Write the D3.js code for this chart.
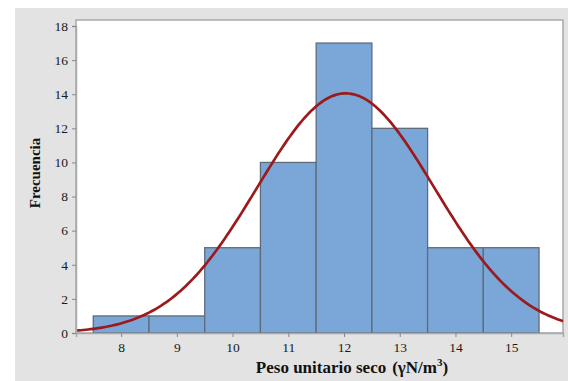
<!DOCTYPE html>
<html>
<head>
<meta charset="utf-8">
<script src="https://cdn.jsdelivr.net/npm/d3@7"></script>
<style>
  body { margin: 0; background: #fff; }
  svg { display: block; }
</style>
</head>
<body>
<script>
// histogram bins (bin width 1) and counts
const binStarts = [7.5, 8.5, 9.5, 10.5, 11.5, 12.5, 13.5, 14.5];
const counts = [1, 1, 5, 10, 17, 12, 5, 5];
const xTicks = [8, 9, 10, 11, 12, 13, 14, 15];
const yTicks = [0, 2, 4, 6, 8, 10, 12, 14, 16, 18];
// fitted normal
const fitMean = 12.03;
const fitSd = 1.59;
const binWidth = 1;

const width = 568, height = 381;
const margin = { top: 20, right: 5, bottom: 48, left: 76 };
const serif = '"Liberation Serif", "Times New Roman", serif';

const svg = d3.select('body')
    .append('svg')
    .attr('width', width)
    .attr('height', height);

svg.append('rect')
    .attr('x', 15).attr('y', 8)
    .attr('width', width - 15).attr('height', height - 8)
    .attr('fill', '#e3e3e3');

const x = d3.scaleLinear()
    .domain([7.19, 15.93])
    .range([margin.left, width - margin.right]);

const y = d3.scaleLinear()
    .domain([0, 18])
    .range([height - margin.bottom, 26]);

const plotTop = margin.top;
const plotBottom = height - margin.bottom;

svg.append('rect')
    .attr('x', margin.left).attr('y', plotTop)
    .attr('width', width - margin.right - margin.left)
    .attr('height', plotBottom - plotTop)
    .attr('fill', '#fff')
    .attr('stroke', '#a9a9a9')
    .attr('stroke-width', 1.5);

// bars
svg.selectAll('rect.bar')
    .data(counts)
    .enter()
    .append('rect')
    .attr('class', 'bar')
    .attr('x', (d, i) => x(binStarts[i]))
    .attr('y', d => y(d))
    .attr('width', (d, i) => x(binStarts[i] + binWidth) - x(binStarts[i]))
    .attr('height', d => y(0) - y(d))
    .attr('fill', '#7ba7d8')
    .attr('stroke', '#5f6b78')
    .attr('stroke-width', 1.3);

// normal curve
const n = d3.sum(counts);
const pdf = v => n * binWidth * Math.exp(-0.5 * ((v - fitMean) / fitSd) ** 2) / (fitSd * Math.sqrt(2 * Math.PI));
const curveX = d3.range(0, 201).map(i => x.domain()[0] + (x.domain()[1] - x.domain()[0]) * i / 200);

svg.append('path')
    .datum(curveX)
    .attr('d', d3.line().x(d => x(d)).y(d => y(pdf(d))))
    .attr('fill', 'none')
    .attr('stroke', '#9c1a1c')
    .attr('stroke-width', 2.7);

// axes
const xAxis = svg.append('g')
    .attr('transform', `translate(0,${plotBottom})`)
    .call(d3.axisBottom(x).tickValues(xTicks).tickSize(4).tickPadding(5));

const yAxis = svg.append('g')
    .attr('transform', `translate(${margin.left},0)`)
    .call(d3.axisLeft(y).tickValues(yTicks).tickSize(4).tickPadding(4));

[xAxis, yAxis].forEach(g => {
    g.attr('font-family', serif);
    g.select('.domain').attr('stroke', '#a9a9a9').attr('stroke-width', 1.5);
    g.selectAll('.tick line').attr('stroke', '#888');
    g.selectAll('.tick text')
        .style('font-family', serif)
        .style('font-size', '13.5px')
        .attr('fill', '#1a1a1a');
});

const xTitle = svg.append('text')
    .attr('x', 352)
    .attr('y', 373)
    .attr('text-anchor', 'middle')
    .style('font-family', serif)
    .style('font-size', '17px')
    .style('font-weight', 'bold')
    .attr('fill', '#111');
xTitle.append('tspan').text('Peso unitario seco');
xTitle.append('tspan').attr('dx', 6).text('(γN/m');
xTitle.append('tspan').attr('dy', -7).style('font-size', '11px').text('3');
xTitle.append('tspan').attr('dy', 7).text(')');

svg.append('text')
    .attr('transform', 'translate(40,173) rotate(-90)')
    .attr('text-anchor', 'middle')
    .style('font-family', serif)
    .style('font-size', '15px')
    .style('font-weight', 'bold')
    .attr('fill', '#111')
    .text('Frecuencia');
</script>
</body>
</html>
